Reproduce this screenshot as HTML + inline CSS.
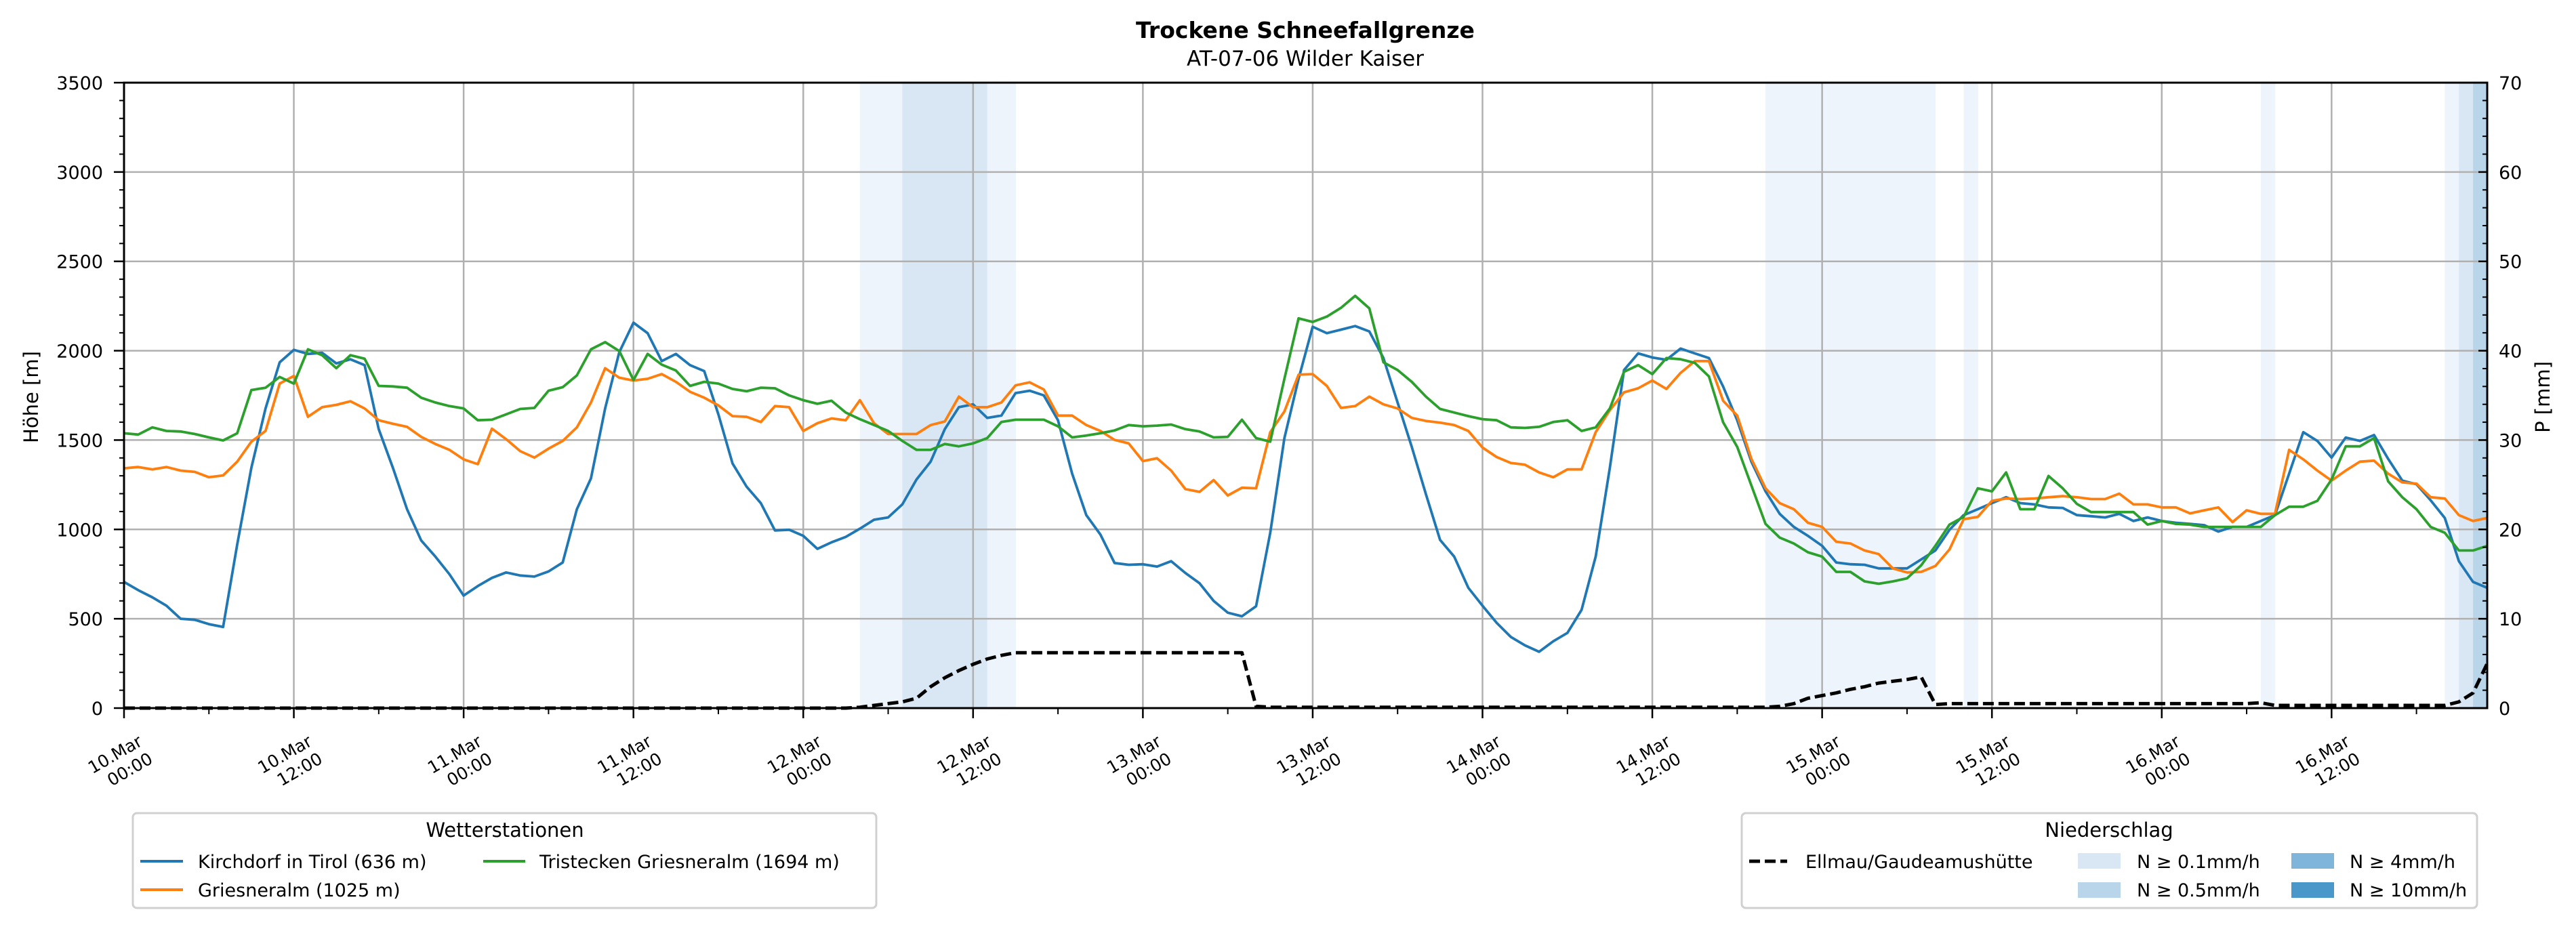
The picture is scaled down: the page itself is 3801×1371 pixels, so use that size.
<!DOCTYPE html>
<html><head><meta charset="utf-8"><style>
html,body{margin:0;padding:0;background:#fff;}
svg{display:block;font-family:"DejaVu Sans","Liberation Sans",sans-serif;}
</style></head><body>
<svg id="chart" width="3801" height="1371" viewBox="0 0 3801 1371" xmlns="http://www.w3.org/2000/svg">
<rect x="0" y="0" width="3801" height="1371" fill="#fff"/>
<g id="bands"></g><g id="grid"></g><g id="series"></g><g id="axes"></g>
<text x="1926" y="56" text-anchor="middle" font-size="33" font-weight="bold">Trockene Schneefallgrenze</text>
<text x="1926" y="97" text-anchor="middle" font-size="31">AT-07-06 Wilder Kaiser</text>
<text transform="translate(56,586) rotate(-90)" text-anchor="middle" font-size="29">Höhe [m]</text>
<text transform="translate(3762,586) rotate(-90)" text-anchor="middle" font-size="29">P [mm]</text>
<g>
<rect x="196" y="1200" width="1097" height="140" rx="6" fill="#fff" stroke="#d0d0d0" stroke-width="3"/>
<text x="745" y="1235" text-anchor="middle" font-size="29">Wetterstationen</text>
<g><line x1="207" y1="1271" x2="270" y2="1271" stroke="#1f77b4" stroke-width="4"/><text x="292" y="1281" font-size="27">Kirchdorf in Tirol (636 m)</text></g>
<g><line x1="207" y1="1313" x2="270" y2="1313" stroke="#ff7f0e" stroke-width="4"/><text x="292" y="1323" font-size="27">Griesneralm (1025 m)</text></g>
<g><line x1="713" y1="1271" x2="775" y2="1271" stroke="#2ca02c" stroke-width="4"/><text x="796" y="1281" font-size="27">Tristecken Griesneralm  (1694 m)</text></g>
</g>
<g>
<rect x="2570" y="1200" width="1085" height="140" rx="6" fill="#fff" stroke="#d0d0d0" stroke-width="3"/>
<text x="3112" y="1235" text-anchor="middle" font-size="29">Niederschlag</text>
<g><line x1="2581" y1="1271" x2="2637" y2="1271" stroke="#000" stroke-width="5" stroke-dasharray="16 7"/><text x="2664" y="1281" font-size="27">Ellmau/Gaudeamushütte</text></g>
<g><rect x="3066" y="1259" width="63" height="23" fill="#d9e7f5"/><text x="3153" y="1281" font-size="27">N ≥ 0.1mm/h</text></g>
<g><rect x="3066" y="1302" width="63" height="23" fill="#b9d5ea"/><text x="3153" y="1323" font-size="27">N ≥ 0.5mm/h</text></g>
<g><rect x="3381" y="1259" width="63" height="23" fill="#7fb5db"/><text x="3467" y="1281" font-size="27">N ≥ 4mm/h</text></g>
<g><rect x="3381" y="1302" width="63" height="23" fill="#4a98c9"/><text x="3467" y="1323" font-size="27">N ≥ 10mm/h</text></g>
</g>
</svg>
<script>
const kirchdorf=[706,660,620,573,500,494,470,454,915,1345,1677,1935,2005,1982,1988,1929,1952,1919,1561,1345,1113,938,848,749,630,683,729,759,742,736,765,815,1113,1286,1677,1992,2157,2098,1942,1982,1919,1886,1644,1369,1239,1147,994,998,964,891,928,958,1004,1054,
1067,1140,1279,1379,1561,1684,1700,1624,1637,1763,1776,1750,1611,1312,1080,971,812,802,805,792,822,756,699,600,534,514,570,981,1511,1843,2134,2098,2118,2138,2108,1959,1710,1462,1197,941,848,673,573,477,398,351,315,374,421,550,848,1345,1892,1985,1962,1949,2012,1985,1959,1800,
1611,1379,1213,1087,1014,964,908,815,805,802,782,782,782,832,882,998,1080,1113,1147,1180,1147,1140,1123,1120,1080,1074,1067,1087,1047,1067,1047,1037,1031,1024,988,1014,1014,1047,1080,1312,1544,1495,1402,1514,1495,1528,1395,1273,1253,1163,1064,822,706,673];
const griesneralm=[1342,1349,1336,1349,1329,1322,1292,1302,1379,1491,1551,1816,1859,1630,1684,1697,1717,1677,1611,1591,1574,1518,1478,1445,1392,1365,1564,1505,1438,1402,1452,1495,1571,1710,1902,1849,1833,1843,1869,1826,1770,1737,1694,1634,1630,1601,1690,1684,1551,1594,1621,1611,1723,1594,
1534,1534,1534,1584,1604,1743,1684,1684,1710,1806,1823,1783,1637,1637,1584,1551,1501,1481,1382,1398,1329,1226,1210,1276,1190,1233,1230,1544,1660,1866,1869,1803,1680,1690,1743,1700,1677,1624,1607,1597,1584,1551,1458,1405,1372,1362,1319,1292,1336,1336,1544,1667,1767,1790,1833,1786,1876,1942,1942,1720,
1637,1395,1230,1147,1113,1037,1014,931,921,882,862,782,759,762,795,888,1057,1070,1160,1173,1170,1173,1180,1186,1180,1170,1170,1200,1140,1140,1123,1123,1090,1107,1123,1041,1107,1087,1087,1445,1392,1329,1273,1329,1379,1385,1312,1263,1256,1180,1173,1080,1047,1064];
const tristecken=[1538,1531,1571,1551,1548,1534,1515,1498,1538,1780,1793,1853,1816,2008,1975,1902,1975,1955,1803,1800,1793,1737,1710,1690,1677,1611,1614,1644,1674,1680,1776,1796,1862,2008,2048,1998,1836,1982,1922,1889,1803,1826,1816,1786,1773,1793,1790,1750,1723,1703,1720,1654,1617,1584,
1551,1495,1445,1445,1478,1465,1481,1511,1601,1614,1614,1614,1577,1515,1525,1538,1554,1584,1577,1581,1587,1561,1548,1515,1518,1614,1511,1491,1843,2181,2161,2191,2240,2307,2237,1935,1892,1826,1743,1674,1654,1634,1617,1611,1571,1568,1574,1601,1611,1551,1571,1677,1882,1919,1869,1959,1952,1932,1856,1600,
1462,1246,1031,954,921,872,848,762,762,709,696,709,726,799,908,1027,1070,1230,1213,1319,1113,1113,1299,1230,1143,1097,1097,1097,1097,1027,1047,1031,1027,1014,1014,1014,1014,1014,1080,1127,1127,1160,1279,1465,1465,1511,1269,1180,1113,1014,981,882,882,908];
const precipEllmau=[0,0,0,0,0,0,0,0,0,0,0,0,0,0,0,0,0,0,0,0,0,0,0,0,0,0,0,0,0,0,0,0,0,0,0,0,0,0,0,0,0,0,0,0,0,0,0,0,0,0,0,0,
0.1,0.3,0.5,0.7,1.1,2.4,3.4,4.2,4.9,5.5,5.9,6.2,6.2,6.2,6.2,6.2,6.2,6.2,6.2,6.2,6.2,6.2,6.2,6.2,6.2,6.2,6.2,6.2,
0.2,0.1,0.1,0.1,0.1,0.1,0.1,0.1,0.1,0.1,0.1,0.1,0.1,0.1,0.1,0.1,0.1,0.1,0.1,0.1,0.1,0.1,0.1,0.1,0.1,0.1,0.1,0.1,0.1,0.1,0.1,0.1,0.1,0.1,0.1,0.1,0.1,
0.2,0.5,1.1,1.4,1.7,2.1,2.4,2.8,3.0,3.2,3.5,0.4,
0.5,0.5,0.5,0.5,0.5,0.5,0.5,0.5,0.5,0.5,0.5,0.5,0.5,0.5,0.5,0.5,0.5,0.5,0.5,0.5,0.5,0.5,0.6,
0.3,0.3,0.3,0.3,0.3,0.3,0.3,0.3,0.3,0.3,0.3,0.3,0.3,0.7,1.7,5.0];
const bandLevel=[
0,0,0,0,0,0,0,0,0,0, 0,0,0,0,0,0,0,0,0,0, 0,0,0,0,0,0,0,0,0,0, 0,0,0,0,0,0,0,0,0,0, 0,0,0,0,0,0,0,0,0,0, 0,0,
1,1,1,2,2,2,2,2,2,1,1,
0,0,0,0,0,0,0,0,0,0, 0,0,0,0,0,0,0,0,0,0, 0,0,0,0,0,0,0,0,0,0, 0,0,0,0,0,0,0,0,0,0, 0,0,0,0,0,0,0,0,0,0, 0,0,0,
1,1,1,1,1,1,1,1,1,1,1,1,
0,0,1,
0,0,0,0,0,0,0,0,0,0, 0,0,0,0,0,0,0,0,0,0,
1,
0,0,0,0,0,0,0,0,0,0, 0,0,
1,2,3,0];
const yTicks=[0,500,1000,1500,2000,2500,3000,3500];
const y2Ticks=[0,10,20,30,40,50,60,70];
const xDays=["10.Mar","10.Mar","11.Mar","11.Mar","12.Mar","12.Mar","13.Mar","13.Mar","14.Mar","14.Mar","15.Mar","15.Mar","16.Mar","16.Mar"];
const xTimes=["00:00","12:00","00:00","12:00","00:00","12:00","00:00","12:00","00:00","12:00","00:00","12:00","00:00","12:00"];

const NS="http://www.w3.org/2000/svg";
const L=183,R=3670,T=122,B=1045,NH=167;
const xs=h=>L+(R-L)*h/NH;
const ys=v=>B-(B-T)*v/3500;
const ys2=v=>B-(B-T)*v/70;
function mk(tag,attrs,parent){const e=document.createElementNS(NS,tag);for(const k in attrs)e.setAttribute(k,attrs[k]);parent.appendChild(e);return e;}
const gB=document.getElementById('bands'),gG=document.getElementById('grid'),gS=document.getElementById('series'),gA=document.getElementById('axes');
const bandCols=["none","#eef4fb","#d9e7f4","#b8d5ea"];
bandLevel.forEach((lv,h)=>{if(!lv)return;
 const r=mk('rect',{x:xs(h),y:T,width:Math.min(xs(h+1),R)-xs(h)+0.5,height:B-T,fill:bandCols[lv]},gB);
 
 });
yTicks.forEach(v=>{const y=ys(v);
 const g=mk('line',{x1:L,x2:R,y1:y,y2:y,stroke:'#b0b0b0','stroke-width':2.5},gG);
 
 
 mk('line',{x1:L-15,x2:L,y1:y,y2:y,stroke:'#000','stroke-width':2.5},gA);
 const t=mk('text',{x:152,y:y+10,'text-anchor':'end','font-size':27},gA);t.textContent=v;
 
 });
for(let v=0;v<=3500;v+=100){const y=ys(v);mk('line',{x1:L-7,x2:L,y1:y,y2:y,stroke:'#000','stroke-width':2},gA);}
y2Ticks.forEach(v=>{const y=ys2(v);
 mk('line',{x1:R-13,x2:R,y1:y,y2:y,stroke:'#000','stroke-width':2.5},gA);
 const t=mk('text',{x:3687,y:y+10,'font-size':27},gA);t.textContent=v;
 
 });
for(let v=0;v<=70;v+=2){const y=ys2(v);mk('line',{x1:R-7,x2:R,y1:y,y2:y,stroke:'#000','stroke-width':2},gA);}
xDays.forEach((d,i)=>{const x=xs(i*12);
 const g=mk('line',{x1:x,x2:x,y1:T,y2:B,stroke:'#b0b0b0','stroke-width':2.5},gG);
 
 
 mk('line',{x1:x,x2:x,y1:B,y2:B+15,stroke:'#000','stroke-width':2.5},gA);
 const t=mk('text',{transform:`translate(${x-6},${B+81}) rotate(-30)`,'font-size':25,'text-anchor':'middle'},gA);
 
 
 const a=mk('tspan',{x:0,y:-6},t);a.textContent=d;
 const b=mk('tspan',{x:8,y:24},t);b.textContent=xTimes[i];});
for(let h=6;h<=NH;h+=12){const x=xs(h);mk('line',{x1:x,x2:x,y1:B,y2:B+9,stroke:'#000','stroke-width':2},gA);}
function line(arr,sc,col,name,extra){
 const p=mk('polyline',Object.assign({points:arr.map((v,h)=>xs(h).toFixed(1)+','+sc(v).toFixed(1)).join(' '),fill:'none',stroke:col,'stroke-width':3.8,'stroke-linejoin':'round'},extra||{}),gS);
 
 }
line(kirchdorf,ys,'#1f77b4','kirchdorf-line');
line(griesneralm,ys,'#ff7f0e','griesneralm-line');
line(tristecken,ys,'#2ca02c','tristecken-line');
line(precipEllmau,ys2,'#000','ellmau-precip-line',{'stroke-width':5,'stroke-dasharray':'16 7'});
mk('rect',{x:L,y:T,width:R-L,height:B-T,fill:'none',stroke:'#000','stroke-width':3},gA);
</script>
</body></html>
